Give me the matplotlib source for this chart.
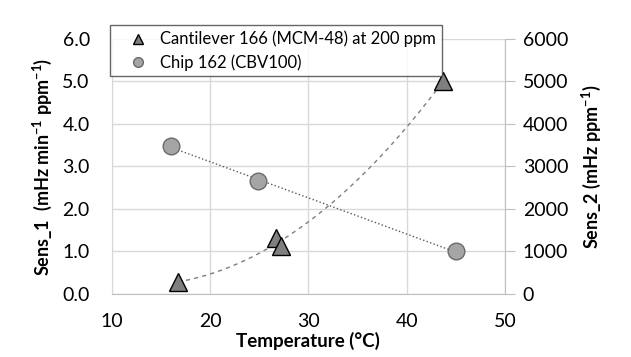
import numpy as np
import matplotlib.pyplot as plt

plt.rcParams['font.family'] = ['Lato', 'DejaVu Sans']
plt.rcParams['mathtext.fontset'] = 'custom'
plt.rcParams['mathtext.rm'] = 'Lato'
plt.rcParams['mathtext.bf'] = 'Lato:bold'

# Cantilever 166 (MCM-48) at 200 ppm -> left axis
cant_temp = [16.7, 26.7, 27.2, 43.7]
cant_sens = [0.28, 1.32, 1.12, 5.0]
# Chip 162 (CBV100) -> right axis
chip_temp = [16.0, 24.9, 45.0]
chip_sens = [3480, 2650, 1000]

fig = plt.figure(figsize=(6.31, 3.57), dpi=100)
ax = fig.add_axes([0.1775, 0.1765, 0.6225, 0.7145])
ax2 = ax.twinx()

# polynomial trend for cantilever
p = np.polyfit(cant_temp, cant_sens, 2)
tx = np.linspace(min(cant_temp), max(cant_temp), 100)
ax.plot(tx, np.polyval(p, tx), '--', color='#7f7f7f', lw=1, dashes=(3, 3), zorder=2)
# linear trend for chip
m, c = np.polyfit(chip_temp, chip_sens, 1)
cx = np.linspace(min(chip_temp), max(chip_temp), 50)
ax2.plot(cx, m * cx + c, ':', color='#595959', lw=1, zorder=2)

ax.plot(cant_temp, cant_sens, '^', ms=13, mfc='#7f7f7f', mec='black', mew=1, zorder=3)
ax2.plot(chip_temp, chip_sens, 'o', ms=12, mfc='#a5a5a5', mec='#6a6a6a', mew=1, zorder=3)

ax.set_xlim(10, 50)
ax.set_ylim(0, 6)
ax2.set_ylim(0, 6000)
ax.set_xticks([10, 20, 30, 40, 50])
ax.set_yticks(np.arange(0, 6.1, 1))
ax.set_yticklabels(['%.1f' % v for v in np.arange(0, 6.1, 1)])
ax2.set_yticks(np.arange(0, 6001, 1000))

ax.grid(True, color='#d9d9d9', lw=1)
ax.set_axisbelow(True)
for a in (ax, ax2):
    for s in a.spines.values():
        s.set_visible(False)
ax.spines['bottom'].set_visible(True)
ax.spines['bottom'].set_color('#bfbfbf')
ax.spines['left'].set_visible(True)
ax.spines['left'].set_color('#d9d9d9')
ax2.spines['right'].set_visible(True)
ax2.spines['right'].set_color('#bfbfbf')

ax.tick_params(axis='y', length=0, labelsize=14, pad=16)
ax.tick_params(axis='x', length=0, labelsize=14, pad=14)
ax2.tick_params(axis='y', length=7, color='#bfbfbf', labelsize=14, pad=6)

ax.set_xlabel('Temperature (°C)', fontsize=13.5, fontweight='bold', labelpad=1)
ax.set_ylabel('Sens_1  (mHz min$^{\\mathbf{-1}}$ ppm$^{\\mathbf{-1}}$)', fontsize=13, fontweight='bold', labelpad=6)
ax2.set_ylabel('Sens_2 (mHz ppm$^{\\mathbf{-1}}$)', fontsize=13, fontweight='bold', labelpad=8)

h1 = plt.Line2D([], [], marker='^', ls='none', ms=7, mfc='#7f7f7f', mec='black')
h2 = plt.Line2D([], [], marker='o', ls='none', ms=7, mfc='#a5a5a5', mec='#6a6a6a')
leg = fig.legend([h1, h2], ['Cantilever 166 (MCM-48) at 200 ppm', 'Chip 162 (CBV100)'],
                 loc='upper left', bbox_to_anchor=(110 / 631, 1 - 25 / 357),
                 borderaxespad=0, fontsize=12, frameon=True, fancybox=False,
                 handletextpad=0.05, borderpad=0.35, labelspacing=0.4,
                 handlelength=2.6, markerfirst=True)
leg.get_frame().set_edgecolor('#404040')
leg.get_frame().set_linewidth(1)
leg.set_zorder(5)
for hnd in leg.legend_handles:
    hnd.set_markersize(7)

fig.savefig('out.png', dpi=100)
